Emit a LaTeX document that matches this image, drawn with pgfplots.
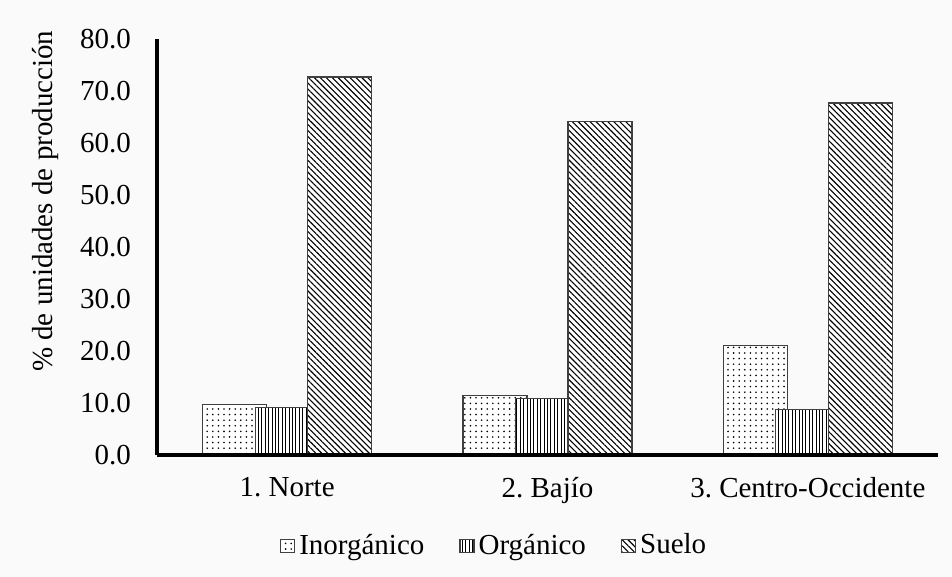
\documentclass[border=0pt]{standalone}
\usepackage{fontspec}
\setmainfont{Liberation Serif}
\usepackage{pgfplots}
\pgfplotsset{compat=1.18}
\usetikzlibrary{patterns.meta}
\definecolor{bgcol}{RGB}{250,250,250}
\definecolor{edge}{RGB}{64,64,64}

\begin{document}
\frenchspacing
\fontsize{14.5}{17}\selectfont
\begin{tikzpicture}
\fill[bgcol] (0,0) rectangle (476pt,288.5pt);
\begin{axis}[
    at={(78.5pt,61pt)}, anchor=south west,
    scale only axis,
    width=390.5pt, height=208pt,
    xmin=-0.5, xmax=2.5,
    ymin=0, ymax=80,
    xtick={0,1,2},
    xticklabels={1. Norte, 2. Bajío, 3. Centro-Occidente},
    ytick={0,10,...,80},
    major tick length=0,
    axis lines=left,
    axis line style={-, line width=1.6pt, black},
    axis on top,
    /pgf/number format/assume math mode=true,
    /pgf/number format/.cd, fixed, fixed zerofill, precision=1, /pgfplots/.cd,
    yticklabel style={xshift=-8pt},
    xticklabel style={yshift=-6pt},
    ylabel={\% de unidades de producción},
    ylabel style={at={(axis description cs:-0.143,0.61)}, anchor=center},
    legend style={at={(axis description cs:0.433,-0.219)}, anchor=center,
        draw=none, fill=none, legend columns=-1,
        /tikz/every even column/.append style={column sep=15.5pt}},
    legend image code/.code={\draw[#1] (0pt,-3.2pt) rectangle (7pt,3.3pt);},
]
\addplot[ybar, bar width=0.2457, bar shift=-0.2015, draw=edge, line width=0.6pt,
    fill=white, postaction={pattern={Dots[radius=0.45pt, distance=2.8pt]}}]
    coordinates {(0,9.7) (1,11.4) (2,21.1)};
\addplot[ybar, bar width=0.2457, bar shift=0, draw=edge, line width=0.6pt,
    fill=white, postaction={pattern={Lines[angle=90, distance=1.7pt, line width=0.45pt]}}]
    coordinates {(0,9.1) (1,10.8) (2,8.7)};
\addplot[ybar, bar width=0.2457, bar shift=0.2015, draw=edge, line width=0.6pt,
    fill=white, postaction={pattern={Lines[angle=-45, distance=2.1pt, line width=0.55pt]}}]
    coordinates {(0,72.7) (1,64.2) (2,67.7)};
\legend{Inorgánico, Orgánico, Suelo}
\end{axis}
\end{tikzpicture}
\end{document}
